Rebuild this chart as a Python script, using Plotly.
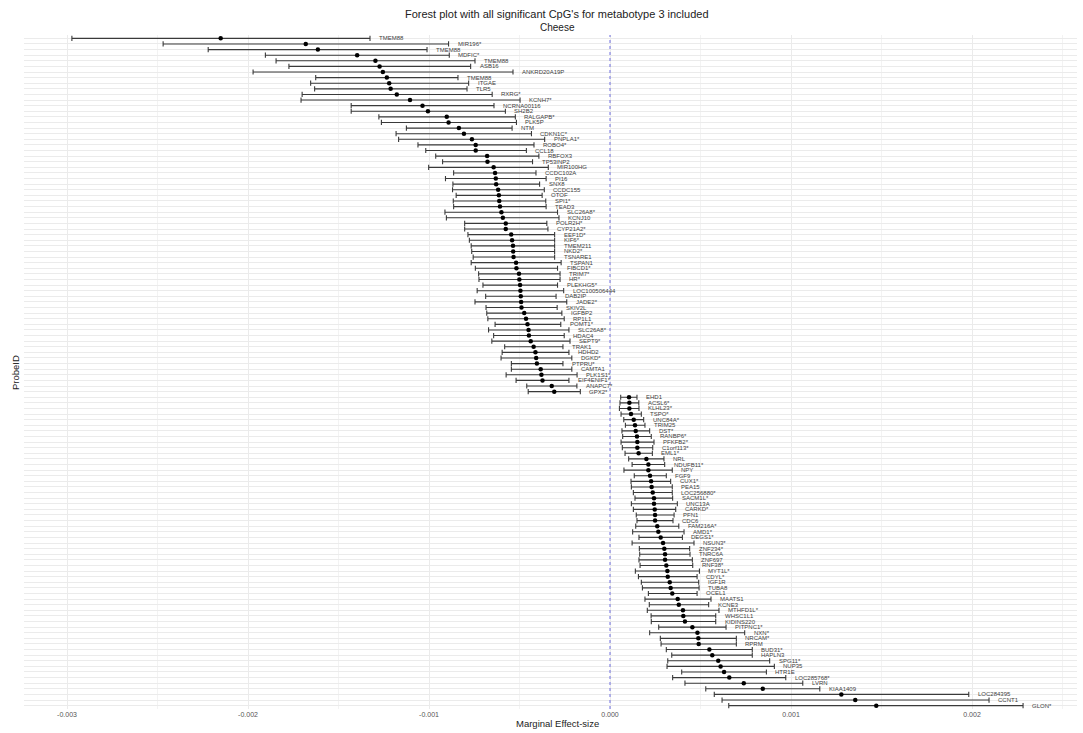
import plotly.graph_objects as go

# Marginal effect estimates with 95% CI per significant CpG (top to bottom)
genes = [
    "TMEM88", "MIR196*", "TMEM88", "MDFIC*", "TMEM88", "ASB16", "ANKRD20A19P", "TMEM88",
    "ITGAE", "TLR5", "RXRG*", "KCNH7*", "NCRNA00116", "SH2B2", "RALGAPB*", "PLK5P",
    "NTM", "CDKN1C*", "PNPLA1*", "ROBO4*", "CCL18", "RBFOX3", "TP53INP2", "MIR100HG",
    "CCDC102A", "PI16", "SNX8", "CCDC155", "OTOF", "SPI1*", "TEAD3", "SLC26A8*",
    "KCNJ10", "POLR2H*", "CYP21A2*", "EEF1D*", "KIF6*", "TMEM211", "NKD2*", "TSNARE1",
    "TSPAN1", "FIBCD1*", "TRIM7*", "HR*", "PLEKHG5*", "LOC100506444", "DAB2IP", "JADE2*",
    "SKIV2L", "IGFBP2", "RP1L1", "POMT1*", "SLC26A8*", "HDAC4", "SEPT9*", "TRAK1",
    "HDHD2", "DGKD*", "PTPRU*", "CAMTA1", "PLK1S1*", "EIF4ENIF1*", "ANAPC7*", "GPX2*",
    "EHD1", "ACSL6*", "KLHL23*", "TSPO*", "UNC84A*", "TRIM25", "DST*", "RANBP6*",
    "PFKFB2*", "C1orf113*", "EML1*", "NRL", "NDUFB11*", "NPY", "FGF9", "CUX1*",
    "PEA15", "LOC256880*", "SACM1L*", "UNC13A", "CARKD*", "PFN1", "CDC6", "FAM216A*",
    "AMD1*", "DEGS1*", "NSUN3*", "ZNF234*", "TNRC6A", "ZNF697", "RNF38*", "MYT1L*",
    "CDYL*", "IGF1R", "TUBA8", "OCEL1", "MAATS1", "KCNE3", "MTHFD1L*", "WHSC1L1",
    "KIDINS220", "PITPNC1*", "NXN*", "NRCAM*", "RPRM", "BUD31*", "HAPLN3", "SPG11*",
    "NUP35", "HTR1E", "LOC285768*", "LVRN", "KIAA1409", "LOC284395", "CCNT1", "GLON*",
]

estimate = [
    -0.002151, -0.001681, -0.001614, -0.001397, -0.001296, -0.001273, -0.001255, -0.001233,
    -0.001220, -0.001212, -0.001178, -0.001105, -0.001036, -0.001006, -0.000902, -0.000892,
    -0.000835, -0.000807, -0.000763, -0.000742, -0.000742, -0.000679, -0.000677, -0.000643,
    -0.000635, -0.000631, -0.000629, -0.000618, -0.000614, -0.000612, -0.000608, -0.000600,
    -0.000592, -0.000576, -0.000576, -0.000546, -0.000541, -0.000536, -0.000535, -0.000533,
    -0.000519, -0.000517, -0.000503, -0.000501, -0.000497, -0.000495, -0.000493, -0.000491,
    -0.000489, -0.000474, -0.000464, -0.000456, -0.000450, -0.000448, -0.000438, -0.000422,
    -0.000412, -0.000408, -0.000404, -0.000383, -0.000379, -0.000373, -0.000322, -0.000308,
    0.000105, 0.000107, 0.000107, 0.000116, 0.000131, 0.000138, 0.000142, 0.000149,
    0.000151, 0.000151, 0.000158, 0.000201, 0.000212, 0.000212, 0.000221, 0.000227,
    0.000230, 0.000236, 0.000243, 0.000243, 0.000247, 0.000249, 0.000249, 0.000261,
    0.000267, 0.000280, 0.000293, 0.000300, 0.000304, 0.000304, 0.000311, 0.000317,
    0.000319, 0.000330, 0.000335, 0.000344, 0.000374, 0.000380, 0.000403, 0.000405,
    0.000414, 0.000455, 0.000483, 0.000488, 0.000490, 0.000549, 0.000565, 0.000598,
    0.000611, 0.000630, 0.000659, 0.000739, 0.000844, 0.001278, 0.001355, 0.001471,
]

lower = [
    -0.002973, -0.002469, -0.002220, -0.001904, -0.001845, -0.001774, -0.001972, -0.001626,
    -0.001654, -0.001632, -0.001701, -0.001707, -0.001430, -0.001430, -0.001277, -0.001263,
    -0.001125, -0.001182, -0.001168, -0.001061, -0.001018, -0.000963, -0.000925, -0.001002,
    -0.000864, -0.000909, -0.000868, -0.000870, -0.000850, -0.000866, -0.000864, -0.000912,
    -0.000904, -0.000803, -0.000803, -0.000785, -0.000777, -0.000767, -0.000764, -0.000756,
    -0.000767, -0.000744, -0.000726, -0.000724, -0.000702, -0.000734, -0.000687, -0.000746,
    -0.000685, -0.000681, -0.000675, -0.000635, -0.000671, -0.000643, -0.000653, -0.000582,
    -0.000596, -0.000602, -0.000545, -0.000545, -0.000574, -0.000519, -0.000460, -0.000452,
    0.000059, 0.000055, 0.000052, 0.000061, 0.000076, 0.000085, 0.000066, 0.000070,
    0.000061, 0.000068, 0.000083, 0.000103, 0.000122, 0.000077, 0.000134, 0.000116,
    0.000118, 0.000129, 0.000138, 0.000118, 0.000129, 0.000145, 0.000149, 0.000142,
    0.000125, 0.000160, 0.000122, 0.000162, 0.000164, 0.000160, 0.000166, 0.000140,
    0.000157, 0.000173, 0.000179, 0.000212, 0.000193, 0.000217, 0.000206, 0.000227,
    0.000228, 0.000269, 0.000219, 0.000278, 0.000282, 0.000311, 0.000341, 0.000319,
    0.000315, 0.000396, 0.000346, 0.000414, 0.000529, 0.000576, 0.000619, 0.000656,
]

upper = [
    -0.001326, -0.000892, -0.001011, -0.000888, -0.000746, -0.000770, -0.000536, -0.000840,
    -0.000781, -0.000790, -0.000651, -0.000497, -0.000641, -0.000578, -0.000523, -0.000517,
    -0.000541, -0.000434, -0.000361, -0.000420, -0.000462, -0.000393, -0.000428, -0.000341,
    -0.000409, -0.000353, -0.000389, -0.000363, -0.000375, -0.000355, -0.000353, -0.000290,
    -0.000282, -0.000349, -0.000343, -0.000306, -0.000306, -0.000306, -0.000306, -0.000306,
    -0.000270, -0.000290, -0.000276, -0.000276, -0.000290, -0.000256, -0.000298, -0.000239,
    -0.000292, -0.000266, -0.000253, -0.000272, -0.000227, -0.000253, -0.000221, -0.000260,
    -0.000227, -0.000211, -0.000260, -0.000211, -0.000182, -0.000227, -0.000183, -0.000164,
    0.000149, 0.000159, 0.000160, 0.000173, 0.000186, 0.000193, 0.000219, 0.000228,
    0.000243, 0.000236, 0.000234, 0.000298, 0.000302, 0.000344, 0.000311, 0.000335,
    0.000344, 0.000344, 0.000346, 0.000372, 0.000363, 0.000354, 0.000348, 0.000380,
    0.000409, 0.000400, 0.000464, 0.000440, 0.000442, 0.000455, 0.000457, 0.000494,
    0.000481, 0.000490, 0.000492, 0.000481, 0.000558, 0.000545, 0.000602, 0.000584,
    0.000584, 0.000641, 0.000744, 0.000698, 0.000698, 0.000786, 0.000786, 0.000882,
    0.000908, 0.000864, 0.000971, 0.001065, 0.001159, 0.001982, 0.002094, 0.002282,
]

x_ticks = [-0.003, -0.002, -0.001, 0.0, 0.001, 0.002]
x_tick_labels = ["-0.003", "-0.002", "-0.001", "0.000", "0.001", "0.002"]
x_minor = [-0.0025, -0.0015, -0.0005, 0.0005, 0.0015, 0.0025]

FONT = "Liberation Sans Narrow, Arial Narrow, Liberation Sans, Arial, sans-serif"
n = len(genes)
rows = list(range(n))

W, H = 1083, 733
ML, MR, MT, MB = 24, 6, 35, 24
plot_h = H - MT - MB


def paper_y(py):
    """Convert a pixel row (from top of the page) to paper y."""
    return (H - MB - py) / plot_h


def paper_x(px):
    return (px - ML) / (W - ML - MR)


fig = go.Figure()

fig.add_trace(go.Scatter(
    x=estimate,
    y=rows,
    mode="markers",
    marker=dict(color="black", size=4.5),
    error_x=dict(
        type="data",
        symmetric=False,
        array=[u - e for u, e in zip(upper, estimate)],
        arrayminus=[e - l for e, l in zip(estimate, lower)],
        color="#3a3a3a",
        thickness=1.1,
        width=2.6,
    ),
    hoverinfo="skip",
    showlegend=False,
))

# gene labels to the right of each interval
for i, (g, u) in enumerate(zip(genes, upper)):
    fig.add_annotation(
        x=u, y=i, text=g, showarrow=False,
        xanchor="left", yanchor="middle", xshift=7,
        font=dict(family=FONT, size=6, color="#3d3d3d"),
    )

# zero reference line
fig.add_shape(
    type="line", xref="x", yref="paper", x0=0, x1=0, y0=0, y1=1,
    line=dict(color="#6f6fe0", width=1, dash="3px,3px"),
)

fig.update_layout(
    width=W,
    height=H,
    margin=dict(l=ML, r=MR, t=MT, b=MB),
    paper_bgcolor="white",
    plot_bgcolor="white",
    font=dict(family=FONT, color="#333333"),
    xaxis=dict(
        range=[-0.0032376, 0.00258],
        tickvals=x_ticks,
        ticktext=x_tick_labels,
        tickfont=dict(family=FONT, size=7, color="#555555"),
        showgrid=True, gridcolor="#ebebeb", gridwidth=1,
        minor=dict(tickvals=x_minor, showgrid=True, gridcolor="#f3f3f3", gridwidth=0.6),
        zeroline=False, showline=False, ticks="",
        fixedrange=True,
    ),
    yaxis=dict(
        range=[n - 0.4, -0.6],
        tickvals=rows,
        showticklabels=False,
        showgrid=True, gridcolor="#ebebeb", gridwidth=1,
        zeroline=False, showline=False, ticks="",
        fixedrange=True,
    ),
)

# title and subtitle
fig.add_annotation(
    xref="paper", yref="paper", x=paper_x(557), y=paper_y(14),
    text="Forest plot with all significant CpG's for metabotype 3 included",
    showarrow=False, xanchor="center", yanchor="middle",
    font=dict(family=FONT, size=11, color="#222222"),
)
fig.add_annotation(
    xref="paper", yref="paper", x=paper_x(557), y=paper_y(27),
    text="Cheese", showarrow=False, xanchor="center", yanchor="middle",
    font=dict(family=FONT, size=10, color="#222222"),
)

# axis titles
fig.add_annotation(
    xref="paper", yref="paper", x=paper_x(557), y=paper_y(723),
    text="Marginal Effect-size", showarrow=False, xanchor="center", yanchor="middle",
    font=dict(family=FONT, size=9.5, color="#222222"),
)
fig.add_annotation(
    xref="paper", yref="paper", x=paper_x(15), y=0.5, xanchor="center", yanchor="middle",
    text="ProbeID", showarrow=False, textangle=-90,
    font=dict(family=FONT, size=9.5, color="#222222"),
)

fig.write_html("out.html")
